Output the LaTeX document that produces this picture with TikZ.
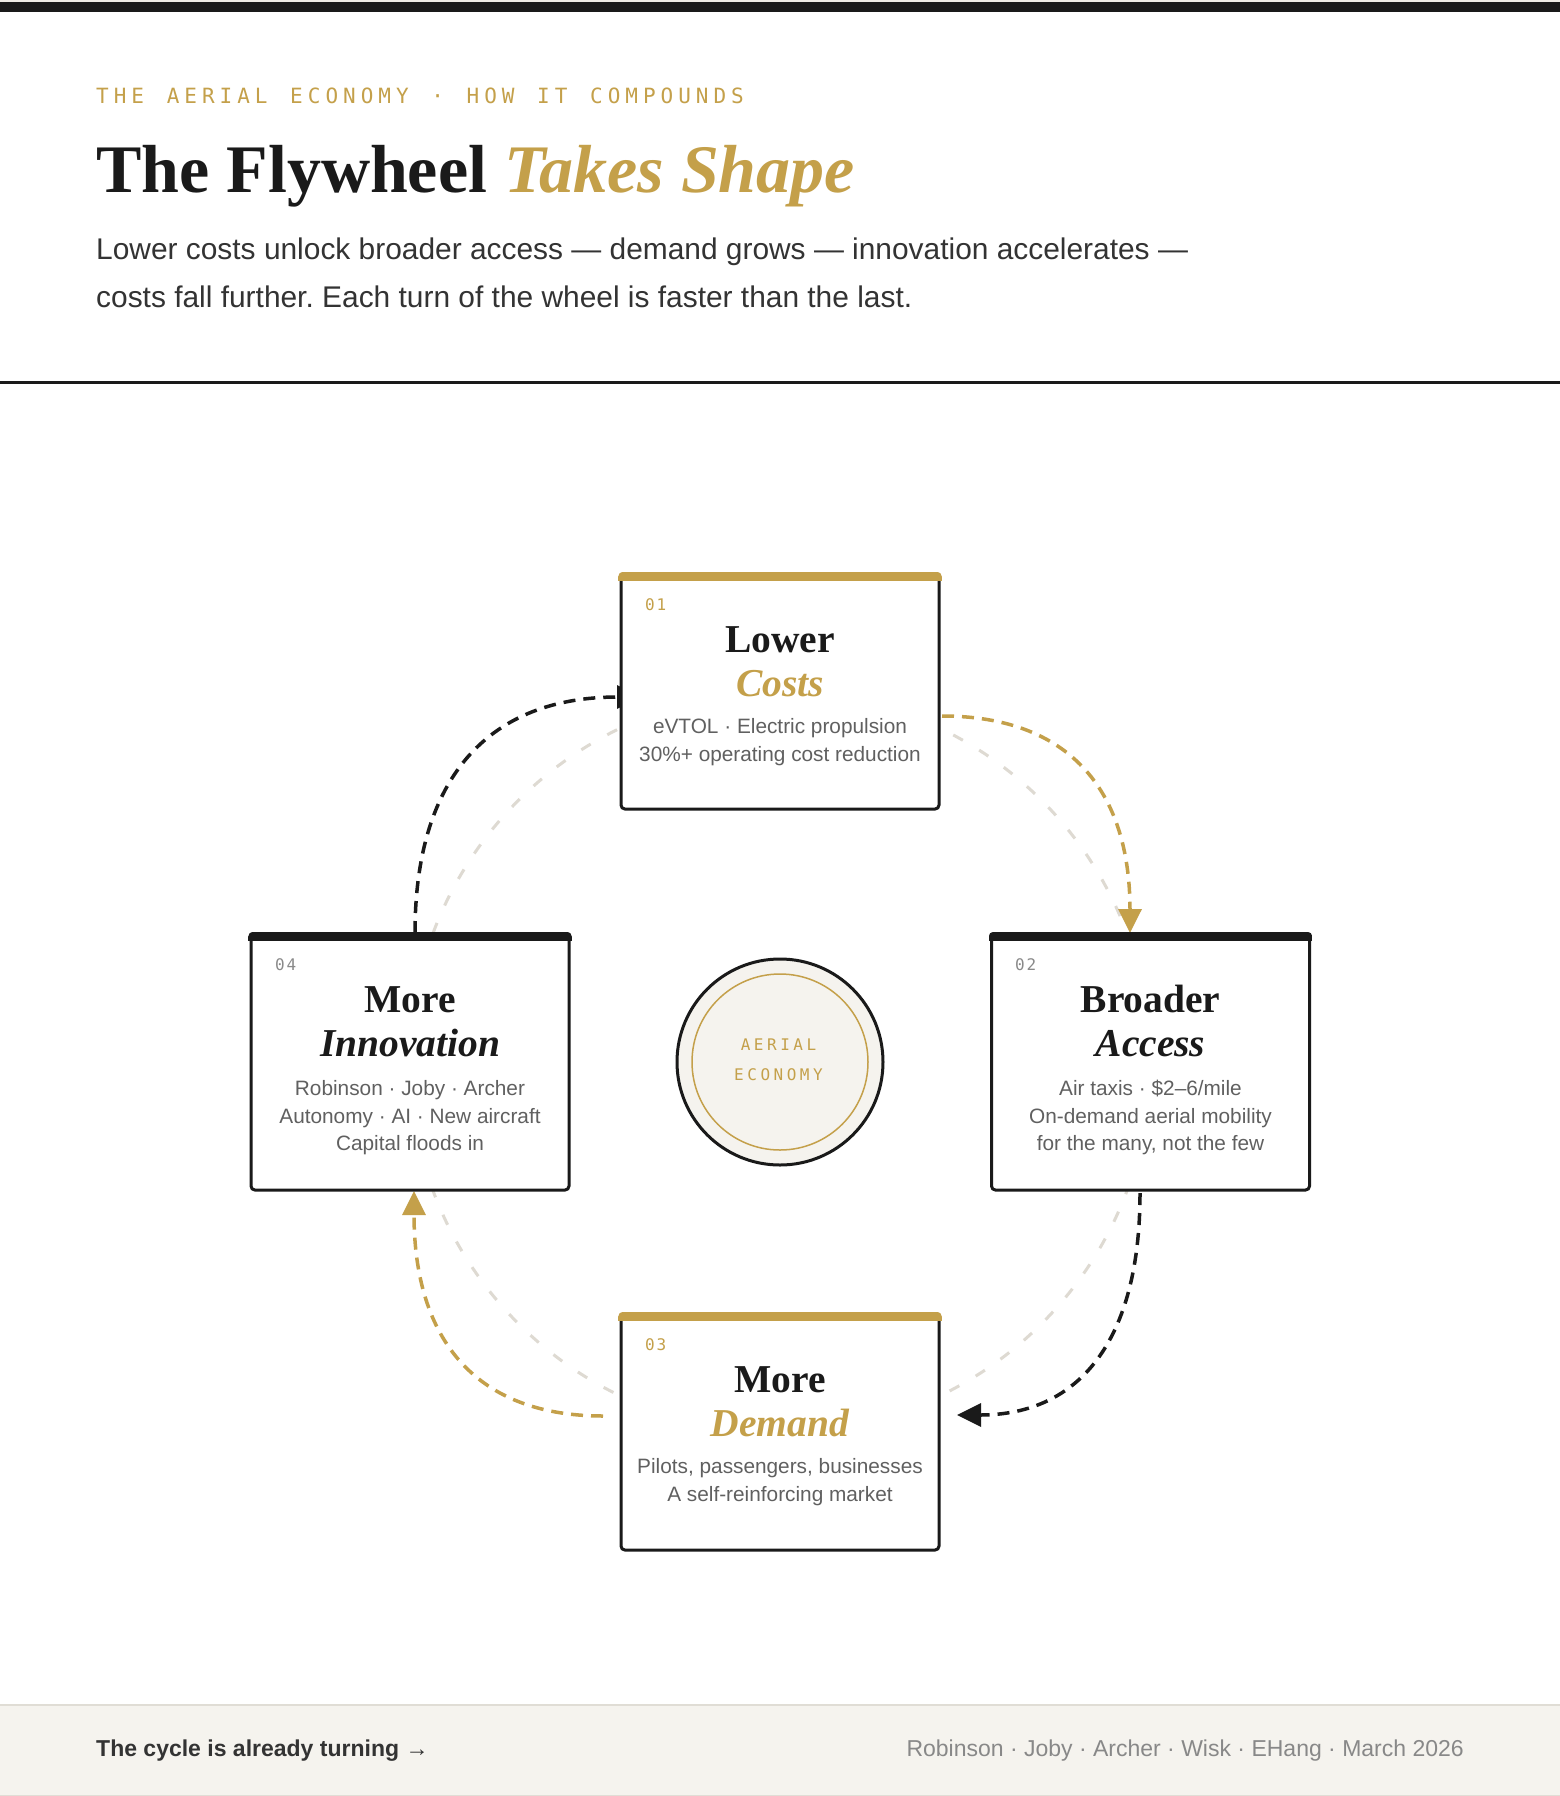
\documentclass[tikz,border=0pt]{standalone}
\usepackage{fontspec}
\setmainfont{Liberation Serif}
\setsansfont{Liberation Sans}
\newfontfamily\monoA[LetterSpace=23.8]{DejaVu Sans Mono}
\newfontfamily\monoB[LetterSpace=22]{DejaVu Sans Mono}
\newfontfamily\monoC[LetterSpace=12]{DejaVu Sans Mono}
\usetikzlibrary{arrows.meta}
\definecolor{ink}{HTML}{1A1A1A}
\definecolor{gold}{HTML}{C4A04A}
\definecolor{beige}{HTML}{F5F3EE}
\definecolor{topstrip}{HTML}{EFECE5}
\definecolor{footline}{HTML}{E0DDD5}
\definecolor{ringgray}{HTML}{DEDAD2}
\definecolor{subgray}{HTML}{606060}
\definecolor{numgray}{HTML}{8A8A8A}
\definecolor{leadgray}{HTML}{333333}
\definecolor{footgray}{HTML}{888888}
\frenchspacing
\newcommand\ebsp{\hspace*{22.64pt}}
\tikzset{
  box/.style={draw=ink, line width=3pt, fill=white, rounded corners=4pt,
    minimum width=318pt, inner sep=0pt},
  numlbl/.style={anchor=base west, inner sep=0pt, font=\monoC\fontsize{16}{16}\selectfont},
  ttl/.style={anchor=base, inner sep=0pt, font=\bfseries\fontsize{39.5}{44}\selectfont, text=ink},
  ttli/.style={anchor=base, inner sep=0pt, font=\bfseries\itshape\fontsize{39.5}{44}\selectfont},
  sublbl/.style={anchor=base, inner sep=0pt, font=\sffamily\fontsize{20.8}{27}\selectfont, text=subgray},
  flow/.style={line width=3.5pt, dash pattern=on 12pt off 8pt},
  tipa/.style={-{Triangle[length=24pt,width=23pt]}},
  lead/.style={anchor=base west, inner sep=0pt, font=\sffamily\fontsize{29.9}{48}\selectfont, text=leadgray},
}
\begin{document}
\begin{tikzpicture}[x=1pt,y=-1pt]
\useasboundingbox (0,0) rectangle (1560,1796);
% page
\fill[white] (0,0) rectangle (1560,1796);
\fill[topstrip] (0,0) rectangle (1560,2);
\fill[ink] (0,2) rectangle (1560,12);
% header
\node[anchor=base west, inner sep=0pt, text=gold, font=\monoA\fontsize{21}{21}\selectfont] (eyebrow) at (96,103.5) {THE\ebsp AERIAL\ebsp ECONOMY\ebsp ·\ebsp HOW\ebsp IT\ebsp COMPOUNDS};
\node[anchor=base west, inner sep=0pt, font=\bfseries\fontsize{68}{80}\selectfont] (title) at (96,192) {\textcolor{ink}{The Flywheel} \textcolor{gold}{\itshape Takes Shape}};
\node[lead] (lead1) at (96,259) {Lower costs unlock broader access — demand grows — innovation accelerates —};
\node[lead] (lead2) at (96,307) {costs fall further. Each turn of the wheel is faster than the last.};
\fill[ink] (0,380.5) rectangle (1560,383.5);
% footer
\fill[beige] (0,1704) rectangle (1560,1796);
\fill[footline] (0,1704) rectangle (1560,1706);
\fill[footline] (0,1794.5) rectangle (1560,1796);
\node[anchor=base west, inner sep=0pt, text=leadgray, font=\sffamily\bfseries\fontsize{23}{23}\selectfont] (footl) at (96,1756) {The cycle is already turning →};
\node[anchor=base east, inner sep=0pt, text=footgray, font=\sffamily\fontsize{23}{23}\selectfont] (footr) at (1464,1756) {Robinson · Joby · Archer · Wisk · EHang · March 2026};
% hub and ring
\coordinate (hubc) at (780,1062);
\draw[ringgray, line width=3pt, dash pattern=on 11pt off 19pt] (hubc) circle (370pt);
% connectors
\coordinate (a1s) at (942,716);   \coordinate (a1e) at (1130,933);
\coordinate (a2s) at (1140,1193); \coordinate (a2e) at (957,1415);
\coordinate (a3s) at (603,1416);  \coordinate (a3e) at (414,1191);
\coordinate (a4s) at (415,933);   \coordinate (a4e) at (641,697);
\draw[flow, gold, tipa] (a1s) .. controls (1067.3,716) and (1130,788.3) .. (a1e);
\draw[flow, ink, tipa] (a2s) .. controls (1140,1341) and (1079,1415) .. (a2e);
\draw[flow, gold, tipa] (a3s) .. controls (477,1416) and (414,1341) .. (a3e);
\draw[flow, ink, tipa] (a4s) .. controls (415,775.7) and (490.3,697) .. (a4e);
% boxes
\node[box, minimum height=234.5pt] (b1) at (780,691.8) {};
\node[box, minimum height=255.5pt] (b2) at (1150.5,1062.3) {};
\node[box, minimum height=235.5pt] (b3) at (780,1432.3) {};
\node[box, minimum height=255.5pt] (b4) at (410,1062.3) {};
\foreach \b/\c in {b1/gold,b2/ink,b3/gold,b4/ink}{
  \begin{scope}
    \clip[rounded corners=5.5pt] ([xshift=-1.5pt,yshift=1.5pt]\b.north west) rectangle ([xshift=1.5pt,yshift=-1.5pt]\b.south east);
    \fill[\c] ([xshift=-1.5pt,yshift=1.5pt]\b.north west) rectangle ([xshift=1.5pt,yshift=-7.5pt]\b.north east);
  \end{scope}
}
% box 1
\node[numlbl, text=gold] (n1) at (645,610) {01};
\node[ttl] (t1a) at (780,652) {Lower};
\node[ttli, text=gold] (t1b) at (780,696) {Costs};
\node[sublbl] (s1a) at (780,733.5) {eVTOL · Electric propulsion};
\node[sublbl] (s1b) at (780,761.5) {30\%+ operating cost reduction};
% box 2
\node[numlbl, text=numgray] (n2) at (1015,970) {02};
\node[ttl] (t2a) at (1150.5,1012) {Broader};
\node[ttli, text=ink] (t2b) at (1150.5,1056) {Access};
\node[sublbl] (s2a) at (1150.5,1095.5) {Air taxis · \$2–6/mile};
\node[sublbl] (s2b) at (1150.5,1123) {On-demand aerial mobility};
\node[sublbl] (s2c) at (1150.5,1150.5) {for the many, not the few};
% box 3
\node[numlbl, text=gold] (n3) at (645,1350) {03};
\node[ttl] (t3a) at (780,1392) {More};
\node[ttli, text=gold] (t3b) at (780,1436) {Demand};
\node[sublbl] (s3a) at (780,1473.5) {Pilots, passengers, businesses};
\node[sublbl] (s3b) at (780,1501.5) {A self-reinforcing market};
% box 4
\node[numlbl, text=numgray] (n4) at (275,970) {04};
\node[ttl] (t4a) at (410,1012) {More};
\node[ttli, text=ink] (t4b) at (410,1056) {Innovation};
\node[sublbl] (s4a) at (410,1095.5) {Robinson · Joby · Archer};
\node[sublbl] (s4b) at (410,1123) {Autonomy · AI · New aircraft};
\node[sublbl] (s4c) at (410,1150.5) {Capital floods in};
% hub
\node[circle, draw=ink, line width=3pt, fill=beige, minimum size=206pt, inner sep=0pt] (hub) at (hubc) {};
\node[circle, draw=gold, line width=1.5pt, minimum size=176pt, inner sep=0pt] (hubin) at (hubc) {};
\node[anchor=base, inner sep=0pt, text=gold, font=\monoB\fontsize{16}{16}\selectfont] (hubt1) at (778.5,1050) {AERIAL};
\node[anchor=base, inner sep=0pt, text=gold, font=\monoB\fontsize{16}{16}\selectfont] (hubt2) at (778.5,1080) {ECONOMY};
\end{tikzpicture}
\end{document}
